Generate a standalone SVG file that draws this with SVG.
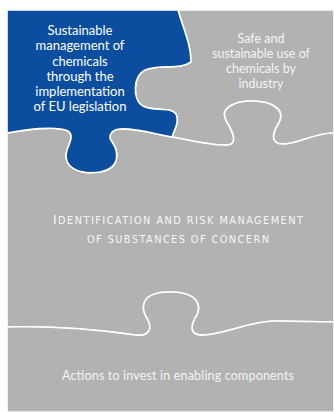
<svg xmlns="http://www.w3.org/2000/svg" width="334" height="412" viewBox="0 0 334 412">
<style>
.piece{stroke:#ffffff;stroke-width:1.6;stroke-linejoin:round}
.gray{fill:#b2b2b2}
.blue{fill:#0b4e9f}
.t{font-family:Lato,"Open Sans",sans-serif;text-anchor:middle}
.tw{fill:#ffffff;font-size:13px}
.tg{fill:#f4f4f4;font-size:12.5px}
.caps{fill:#f6f6f6;font-size:9.8px;font-family:"DejaVu Sans",Lato,sans-serif}
</style>
<rect x="0" y="0" width="334" height="412" fill="#ffffff"/>
<g id="piece-top-right">
<path class="piece gray" d="M178,10 H334 V133 C315,133 300,143 285,144 C270,145 272,134 278,124 C287,110 272,101 252,101 C235,101 218,108 227,122 C233,132 238,144 228,145 C212,146 190,140 172,137 C174,130 180,122 176,114 C170,106 153,112 143,106 C132,100 133,76 145,70 C160,64 180,70 191,62 C191,44 183,28 178,10 Z"/>
<text class="t tg"><tspan x="261" y="43">Safe and</tspan><tspan x="261" y="58">sustainable use of</tspan><tspan x="261" y="73">chemicals by</tspan><tspan x="261" y="88">industry</tspan></text>
</g>
<g id="piece-middle">
<path class="piece gray" d="M7,133 C25,130 55,125 68,131 C74,135 70,142 67,150 C62,168 80,175 100,172 C122,168 118,150 112,142 C108,137 110,130 120,129 C135,128 155,134 172,137 C190,140 212,146 228,145 C238,144 233,132 227,122 C218,108 235,101 252,101 C272,101 287,110 278,124 C272,134 270,145 285,144 C300,143 315,133 334,133 V322 L275,321 C250,321 230,333 205,335 C190,336 190,328 195,318 C203,306 198,292 170,292 C140,292 140,308 148,320 C152,328 150,337 135,335 C100,330 50,326 7,327 Z"/>
<text class="t caps" x="178" y="224" textLength="250" lengthAdjust="spacing"><tspan font-size="12.5px">I</tspan>DENTIFICATION AND RISK MANAGEMENT</text>
<text class="t caps" x="178" y="243" textLength="182" lengthAdjust="spacing">OF SUBSTANCES OF CONCERN</text>
</g>
<g id="piece-bottom">
<path class="piece gray" d="M7,327 C50,326 100,330 135,335 C150,337 152,328 148,320 C140,308 140,292 170,292 C198,292 203,306 195,318 C190,328 190,336 205,335 C230,333 250,321 275,321 L334,322 V412 H7 Z"/>
<text class="t tg" x="178" y="380" textLength="232" lengthAdjust="spacing">Actions to invest in enabling components</text>
</g>
<g id="piece-blue">
<path class="piece blue" d="M7,10 H178 C183,28 191,44 191,62 C180,70 160,64 145,70 C133,76 132,100 143,106 C153,112 170,106 176,114 C180,122 174,130 172,137 C155,134 135,128 120,129 C110,130 108,137 112,142 C118,150 122,168 100,172 C80,175 62,168 67,150 C70,142 74,135 68,131 C55,125 25,130 7,133 Z"/>
<text class="t tw"><tspan x="80" y="35">Sustainable</tspan><tspan x="80" y="50">management of</tspan><tspan x="80" y="66">chemicals</tspan><tspan x="80" y="81">through the</tspan><tspan x="80" y="96">implementation</tspan><tspan x="80" y="111">of EU legislation</tspan></text>
</g>
<g id="connectors"></g>
</svg>
